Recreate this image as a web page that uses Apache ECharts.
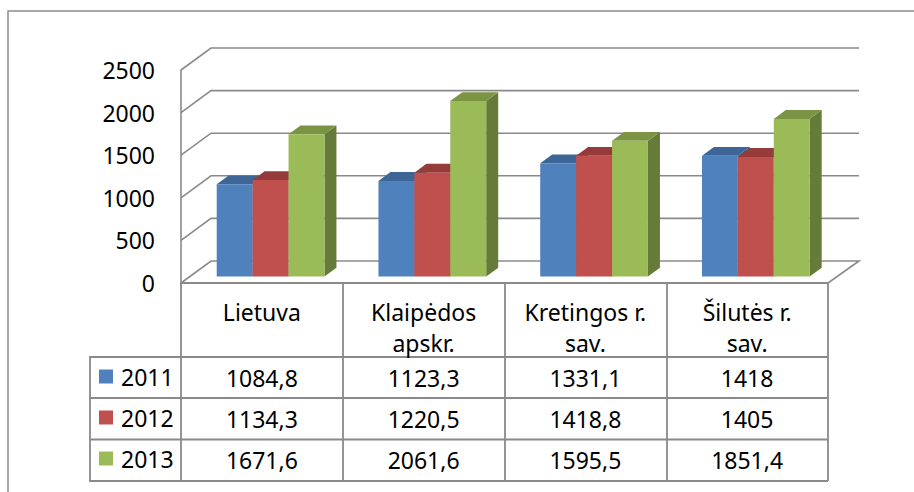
<!DOCTYPE html>
<html>
<head>
<meta charset="utf-8">
<script src="https://cdn.jsdelivr.net/npm/echarts@6/dist/echarts.min.js"></script>
<style>
    html, body { margin: 0; padding: 0; background: #fff; }
    #chart { width: 914px; height: 492px; }
</style>
</head>
<body>
<div id="chart"></div>
<script>
const categories = ['Lietuva', 'Klaipėdos\napskr.', 'Kretingos r.\nsav.', 'Šilutės r.\nsav.']
const years = ['2011', '2012', '2013']
const values2011 = [1084.8, 1123.3, 1331.1, 1418]
const values2012 = [1134.3, 1220.5, 1418.8, 1405]
const values2013 = [1671.6, 2061.6, 1595.5, 1851.4]
const yTicks = [0, 500, 1000, 1500, 2000, 2500]

const seriesValues = [values2011, values2012, values2013]
const frontColors = ['#4F81BD', '#C0504D', '#9BBB59']
const topColors = ['#3D6696', '#953C3A', '#7A9444']
const sideColors = ['#34577F', '#7F3331', '#667B39']
const lineColor = '#8a8a8a'
const font = '"Noto Sans", sans-serif'

// depth of the 3d box in pixels
const DX = 30, DY = -22
// bars stand between these fractions of the depth
const BAR_FRONT = 0.29, BAR_BACK = 0.69
// data table rows under the plot
const ROW_TOP = 357, ROW_H = 41.3

function fmt(v) {
    return String(v).replace('.', ',')
}

function barRenderer(s) {
    return function (params, api) {
        const c = api.value(0), v = api.value(1)
        const base = api.coord([c, 0])
        const top = api.coord([c, v])
        const band = api.size([1, 0])[0]
        const bw = band * 0.222
        const ox = DX * BAR_FRONT, oy = DY * BAR_FRONT
        const dx = DX * (BAR_BACK - BAR_FRONT), dy = DY * (BAR_BACK - BAR_FRONT)
        const x0 = base[0] - 1.5 * bw + s * bw + ox
        const x1 = x0 + bw
        const yb = base[1] + oy, yt = top[1] + oy
        return {
            type: 'group',
            children: [{
                type: 'polygon',
                shape: { points: [[x1, yt], [x1 + dx, yt + dy], [x1 + dx, yb + dy], [x1, yb]] },
                style: { fill: sideColors[s] }
            }, {
                type: 'polygon',
                shape: { points: [[x0, yt], [x0 + dx, yt + dy], [x1 + dx, yt + dy], [x1, yt]] },
                style: { fill: topColors[s] }
            }, {
                type: 'rect',
                shape: { x: x0, y: yt, width: bw, height: yb - yt },
                style: { fill: frontColors[s] }
            }]
        }
    }
}

function wallRenderer(params, api) {
    const cs = params.coordSys
    const v = api.value(1)
    const y = api.coord([0, v])[1]
    const xl = cs.x, xr = cs.x + cs.width
    let pts = [[xl, y], [xl + DX, y + DY], [xr + DX + 1, y + DY]]
    if (v === 0) pts.push([xr, y])
    return {
        type: 'polyline',
        shape: { points: pts },
        style: { stroke: lineColor, lineWidth: 1.6, fill: null }
    }
}

function tableRenderer(params, api) {
    const c = api.value(0), r = api.value(1)
    const x = api.coord([c, 0])[0]
    return {
        type: 'text',
        style: {
            x: x,
            y: ROW_TOP + (r + 0.5) * ROW_H,
            text: fmt(api.value(2)),
            fill: '#000',
            font: '23px ' + font,
            align: 'center',
            verticalAlign: 'middle'
        }
    }
}

let tableData = []
seriesValues.forEach(function (vals, r) {
    vals.forEach(function (v, c) {
        tableData.push([c, r, v])
    })
})

let series = [{
    type: 'custom',
    name: 'walls',
    renderItem: wallRenderer,
    encode: { x: 0, y: 1 },
    data: yTicks.map(function (v) { return [0, v] }),
    silent: true
}]
years.forEach(function (y, s) {
    series.push({
        type: 'custom',
        name: y,
        renderItem: barRenderer(s),
        encode: { x: 0, y: 1 },
        itemStyle: { color: frontColors[s] },
        data: seriesValues[s].map(function (v, c) { return [c, v] })
    })
})
series.push({
    type: 'custom',
    name: 'table',
    renderItem: tableRenderer,
    encode: { x: 0, y: 1 },
    data: tableData,
    silent: true
})

const tableLine = { stroke: lineColor, lineWidth: 1.8 }

const option = {
    animation: false,
    grid: { left: 181, right: 86, top: 70, bottom: 209 },
    legend: {
        data: years,
        orient: 'vertical',
        left: 99,
        top: 365,
        itemWidth: 14,
        itemHeight: 14,
        itemGap: 18,
        padding: 0,
        icon: 'rect',
        selectedMode: false,
        textStyle: { fontSize: 23, lineHeight: 23, fontFamily: font, color: '#000', padding: [0, 0, 0, 3] }
    },
    xAxis: {
        type: 'category',
        data: categories,
        axisLine: { lineStyle: { color: lineColor, width: 1.8 } },
        axisTick: { show: true, length: 198, interval: 0, lineStyle: { color: lineColor, width: 1.8 } },
        axisLabel: { interval: 0, margin: 13, fontSize: 23, lineHeight: 31, fontFamily: font, color: '#000' },
        splitLine: { show: false }
    },
    yAxis: {
        type: 'value',
        min: 0,
        max: 2500,
        interval: 500,
        axisLine: { show: true, lineStyle: { color: lineColor, width: 1.6 } },
        axisTick: { show: false },
        axisLabel: {
            margin: 26, fontSize: 23, fontFamily: font, color: '#000',
            formatter: function (v) { return String(v) }
        },
        splitLine: { show: false }
    },
    graphic: [{
        type: 'polyline',
        shape: { points: [[8, 500], [8, 11], [920, 11]] },
        style: { stroke: '#8c8c8c', lineWidth: 1.5, fill: null }
    }, {
        type: 'polyline',
        shape: { points: [[828, 357], [90, 357], [90, 481], [828, 481]] },
        style: tableLine
    }, {
        type: 'line',
        shape: { x1: 90, y1: 398, x2: 828, y2: 398 },
        style: tableLine
    }, {
        type: 'line',
        shape: { x1: 90, y1: 439.5, x2: 828, y2: 439.5 },
        style: tableLine
    }],
    series: series
}

const chart = echarts.init(document.getElementById('chart'), null, { renderer: 'svg' })
chart.setOption(option)
</script>
</body>
</html>
